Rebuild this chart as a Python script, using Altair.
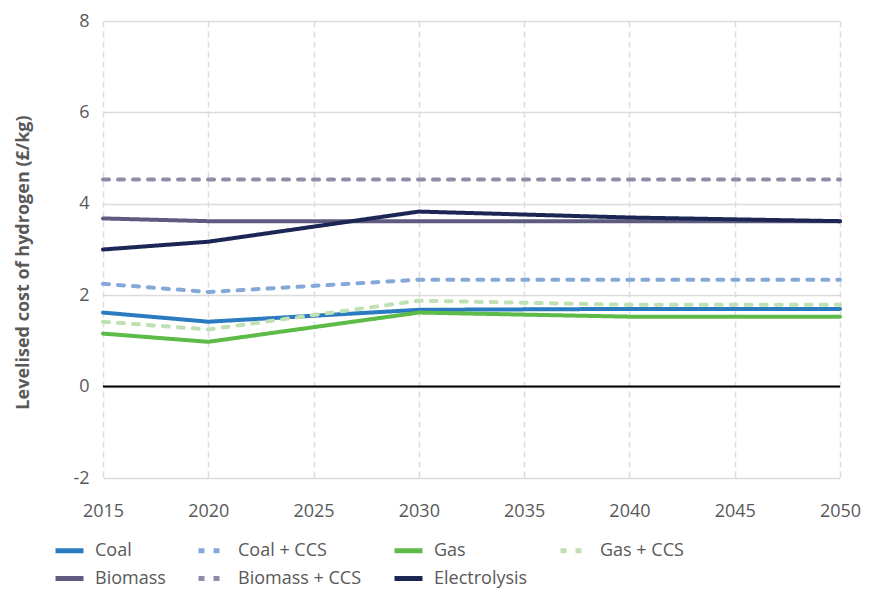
import altair as alt
import pandas as pd

years = [2015, 2020, 2030, 2040, 2050]
series_names = ["Coal", "Coal + CCS", "Gas", "Gas + CCS", "Biomass", "Biomass + CCS", "Electrolysis"]
coal = [1.62, 1.42, 1.68, 1.70, 1.70]
coal_ccs = [2.25, 2.07, 2.34, 2.34, 2.34]
gas = [1.16, 0.98, 1.62, 1.53, 1.53]
gas_ccs = [1.42, 1.25, 1.88, 1.79, 1.79]
biomass = [3.68, 3.62, 3.62, 3.62, 3.62]
biomass_ccs = [4.53, 4.53, 4.53, 4.53, 4.53]
electrolysis = [3.00, 3.17, 3.83, 3.70, 3.62]
colors = ["#2a7bbf", "#84a9d9", "#5dbb47", "#bfe0b3", "#5f5b7f", "#8f8ba8", "#1b2654"]
dashes = [[1, 0], [6, 9], [1, 0], [6, 9], [1, 0], [6, 9], [1, 0]]

values = [coal, coal_ccs, gas, gas_ccs, biomass, biomass_ccs, electrolysis]
rows = []
for name, vals in zip(series_names, values):
    for y, v in zip(years, vals):
        rows.append({"year": y, "value": v, "series": name})
df = pd.DataFrame(rows)

FONT = "Open Sans"
GREY = "#595959"
FS = 18

x = alt.X("year:Q", scale=alt.Scale(domain=[2015, 2050], nice=False),
          axis=alt.Axis(values=list(range(2015, 2051, 5)), format="d", title=None,
                        grid=True, gridDash=[6, 4], gridColor="#dcdcdc", gridWidth=1.5,
                        domain=False, ticks=False, labelPadding=24, labelFlush=False,
                        labelOverlap=False,
                        labelFontSize=FS, labelColor=GREY, labelFont=FONT))
y = alt.Y("value:Q", scale=alt.Scale(domain=[-2, 8], nice=False),
          axis=alt.Axis(values=[-2, 0, 2, 4, 6, 8], title="Levelised cost of hydrogen (£/kg)",
                        labelExpr="'' + datum.value",
                        grid=True, gridColor="#dcdcdc", gridWidth=1.5,
                        domain=False, ticks=False, labelPadding=14, labelFlush=False,
                        labelOverlap=False,
                        labelFontSize=FS, labelColor=GREY, labelFont=FONT,
                        titleFontSize=FS, titleFont=FONT, titleFontWeight="bold",
                        titleColor=GREY, titleX=-80, titleY=241, titleAngle=-90,
                        titleAlign="center", titleBaseline="middle"))

zero = alt.Chart(pd.DataFrame({"z": [0]})).mark_rule(color="#000000", strokeWidth=2).encode(
    y=alt.Y("z:Q", scale=alt.Scale(domain=[-2, 8], nice=False)))

lines = alt.Chart(df).mark_line(strokeWidth=4, strokeCap="round", strokeJoin="round").encode(
    x=x, y=y,
    color=alt.Color("series:N", scale=alt.Scale(domain=series_names, range=colors),
                    sort=series_names,
                    legend=alt.Legend(title=None, orient="none", legendX=-50, legendY=513,
                                      columns=4, columnPadding=22, rowPadding=1,
                                      symbolType="stroke", symbolSize=784, symbolStrokeWidth=5,
                                      labelFontSize=FS, labelColor=GREY, labelFont=FONT,
                                      labelOffset=9, direction="horizontal")),
    strokeDash=alt.StrokeDash("series:N", scale=alt.Scale(domain=series_names, range=dashes),
                              sort=series_names, legend=None),
    order=alt.Order("series:N"),
)

chart = alt.layer(zero, lines).properties(
    width=737, height=457,
    padding={"left": 95, "top": 13, "right": 21, "bottom": 110},
    autosize=alt.AutoSizeParams(type="none"),
).configure_view(stroke=None)

chart.save("out.html", embed_options={"renderer": "svg", "actions": False})
